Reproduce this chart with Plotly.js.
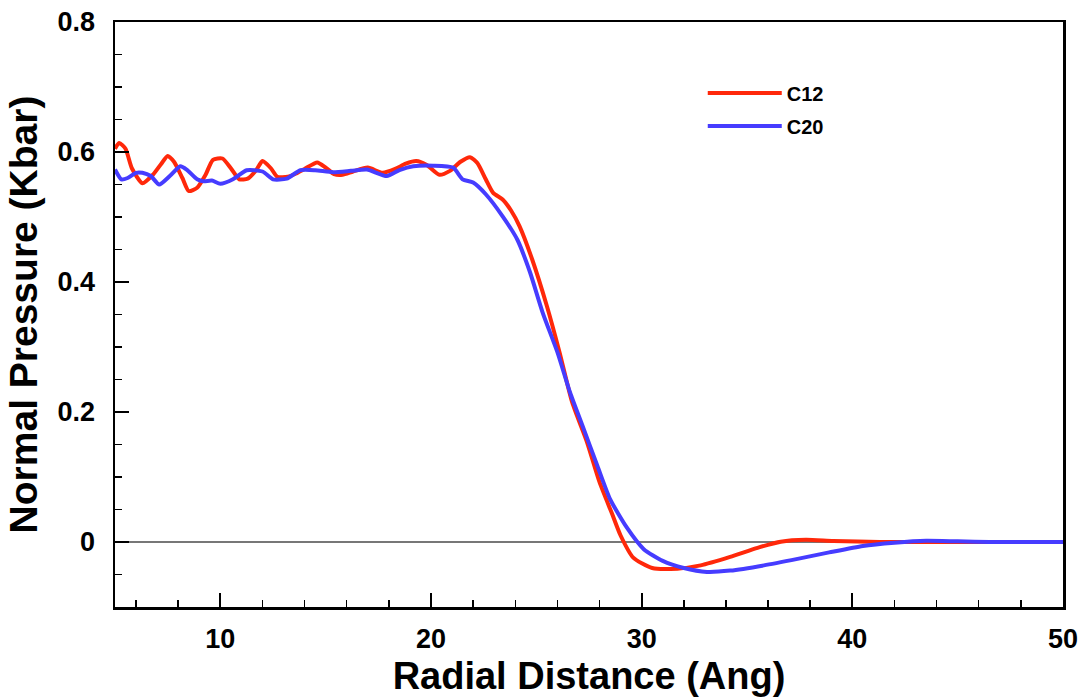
<!DOCTYPE html>
<html>
<head>
<meta charset="utf-8">
<script src="https://cdn.plot.ly/plotly-3.0.1.min.js"></script>
<style>
html,body{margin:0;padding:0;background:#fff;}
#chart{width:1081px;height:700px;}
</style>
</head>
<body>
<div id="chart"></div>
<script>
var seriesNames = ["C12", "C20"];

var c12X = [5.0,5.2,5.5,5.8,6.3,6.8,7.2,7.5,7.8,8.2,8.5,8.9,9.3,9.65,10.1,10.5,10.9,11.3,11.7,12.0,12.4,12.7,13.2,13.6,14.0,14.6,15.0,15.4,15.8,16.3,17.0,17.7,18.3,18.8,19.3,19.8,20.4,20.9,21.4,21.85,22.2,22.6,22.95,23.4,23.8,24.2,24.8,25.5,26.1,26.7,27.4,28.0,28.6,29.0,29.6,30.5,31.7,32.8,34.2,35.5,36.6,37.8,39.1,41.3,45,50];
var c12Y = [0.605,0.614,0.605,0.575,0.552,0.565,0.582,0.594,0.585,0.56,0.54,0.545,0.565,0.588,0.59,0.575,0.558,0.559,0.572,0.586,0.575,0.562,0.562,0.567,0.574,0.584,0.576,0.566,0.565,0.57,0.576,0.568,0.574,0.582,0.586,0.58,0.565,0.571,0.585,0.592,0.583,0.558,0.537,0.527,0.51,0.486,0.435,0.363,0.292,0.215,0.154,0.092,0.043,0.01,-0.024,-0.04,-0.041,-0.036,-0.023,-0.009,0.0005,0.0035,0.0015,0.0,0,0];

var c20X = [5.0,5.3,5.6,6.0,6.3,6.7,7.1,7.6,8.1,8.4,8.9,9.2,9.6,10.0,10.6,11.25,12.0,12.5,13.15,13.8,14.5,15.35,16.2,16.96,17.9,18.5,19.16,20.1,21.05,21.5,22.0,22.6,23.4,24.1,24.7,25.3,26.0,26.6,27.2,27.9,28.5,29.3,30.1,31.0,32.0,33.1,34.2,35.8,37.4,38.9,40.5,42.0,43.5,45.0,46.5,50];
var c20Y = [0.573,0.558,0.56,0.568,0.568,0.563,0.55,0.563,0.578,0.573,0.558,0.555,0.556,0.551,0.558,0.572,0.57,0.558,0.559,0.572,0.572,0.569,0.571,0.573,0.563,0.572,0.578,0.579,0.576,0.558,0.553,0.535,0.501,0.465,0.415,0.353,0.292,0.23,0.178,0.117,0.066,0.022,-0.011,-0.029,-0.040,-0.046,-0.044,-0.036,-0.026,-0.016,-0.006,-0.001,0.002,0.001,0,0];

var xTickVals = [10,20,30,40,50];
var yTickVals = [0,0.2,0.4,0.6,0.8];
var yTickText = ["0","0.2","0.4","0.6","0.8"];

var FONT = "Liberation Sans, Arial, Helvetica, sans-serif";

var traces = [
  {x: c12X, y: c12Y, name: seriesNames[0], legendgroup: "a", type: "scatter", mode: "lines",
   line: {color: "rgb(255,40,10)", width: 4, shape: "spline", smoothing: 0.6}},
  {x: c20X, y: c20Y, name: seriesNames[1], legendgroup: "b", type: "scatter", mode: "lines",
   line: {color: "rgb(70,60,255)", width: 4, shape: "spline", smoothing: 0.6}}
];

var layout = {
  width: 1081, height: 700,
  margin: {l: 115, r: 18, t: 22, b: 93},
  paper_bgcolor: "#fff", plot_bgcolor: "#fff",
  font: {family: FONT, color: "#000"},
  showlegend: true,
  legend: {x: 0.620, y: 0.912, xanchor: "left", yanchor: "top",
           font: {family: FONT, size: 20, weight: "bold", color: "#000"},
           bgcolor: "rgba(0,0,0,0)", itemwidth: 74, tracegroupgap: 4, traceorder: "grouped"},
  xaxis: {
    range: [5, 50], showgrid: false, zeroline: false,
    showline: true, mirror: true, linecolor: "#000", linewidth: 2.5,
    ticks: "inside", ticklen: 14, tickwidth: 2, tickcolor: "#000",
    tickvals: xTickVals, ticktext: xTickVals.map(String),
    tickfont: {family: FONT, size: 27, weight: "bold"},
    ticklabelstandoff: 6,
    minor: {ticks: "inside", dtick: 2, tick0: 0, ticklen: 7, tickwidth: 1.5, tickcolor: "#000", showgrid: false},
    title: {text: "Radial Distance (Ang)", font: {family: FONT, size: 38, weight: "bold"}, standoff: 10}
  },
  yaxis: {
    range: [-0.1, 0.8], showgrid: false,
    zeroline: true, zerolinecolor: "#777", zerolinewidth: 2.5,
    showline: true, mirror: true, linecolor: "#000", linewidth: 2.5,
    ticks: "inside", ticklen: 14, tickwidth: 2, tickcolor: "#000",
    tickvals: yTickVals, ticktext: yTickText,
    tickfont: {family: FONT, size: 27, weight: "bold"},
    ticklabelstandoff: 12,
    minor: {ticks: "inside", dtick: 0.05, tick0: 0, ticklen: 7, tickwidth: 1.5, tickcolor: "#000", showgrid: false},
    title: {text: "Normal Pressure (Kbar)", font: {family: FONT, size: 39, weight: "bold"}, standoff: 8}
  }
};

Plotly.newPlot("chart", traces, layout, {displayModeBar: false, staticPlot: true});
</script>
</body>
</html>
